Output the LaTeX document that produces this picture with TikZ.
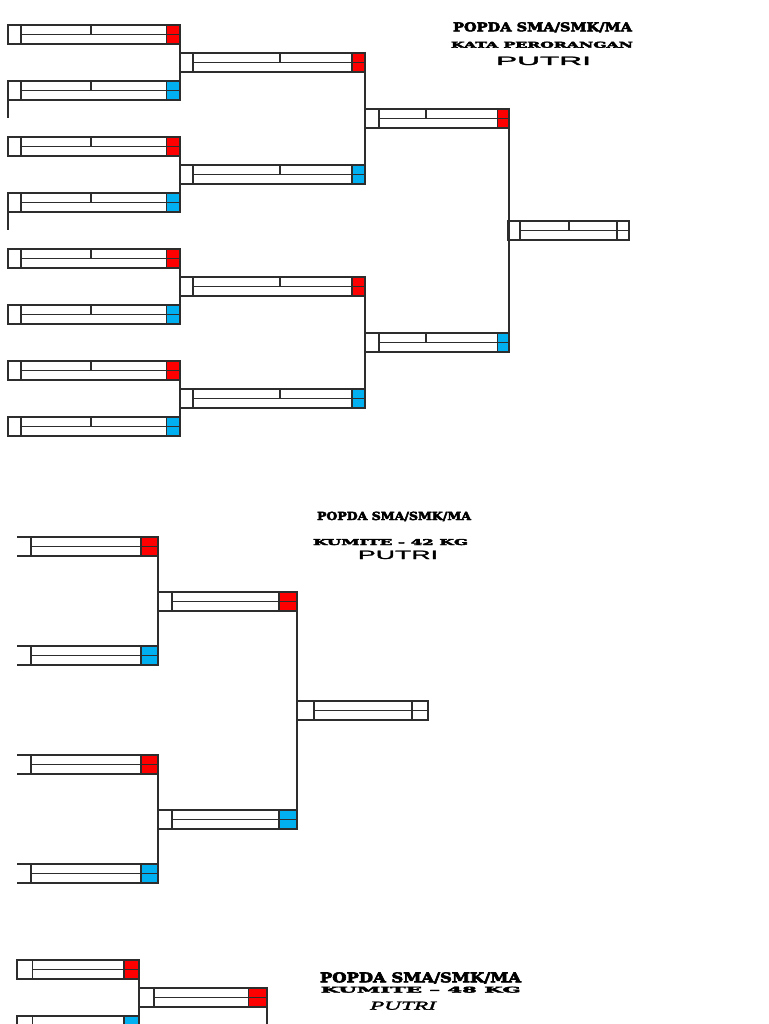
\documentclass[tikz,border=0pt]{standalone}
\usepackage{fontspec}
\usepackage{graphicx}
\newfontfamily\titlefont{DejaVu Serif}[UprightFont={* Bold}, FakeBold=4]
\newfontfamily\widefont{Liberation Sans}[FakeBold=1.5]
\newfontfamily\scriptfnt{Liberation Serif}[UprightFont={* Italic}, FakeBold=1.5]
\definecolor{slotred}{RGB}{255,0,0}
\definecolor{slotblue}{RGB}{0,176,240}
\definecolor{linegray}{RGB}{45,45,45}
\tikzset{
  slotline/.style={draw=linegray, line width=1.2pt},
  slot/.style={slotline, rectangle, anchor=north west, inner sep=0pt, outer sep=0pt, minimum height=19pt},
  slotopen/.style={draw=none},
  conn/.style={slotline},
  ttl/.style={anchor=north west, inner sep=0pt, outer sep=0pt}
}
% [style]{name}{x,y}{width}{left box width}{upper divider offset or empty}{right box width}{colour}
\newcommand\bslot[8][]{%
  \node[slot, minimum width=#4pt, #1] (#2) at (#3) {};
  \draw[slotline] ([xshift=#5pt]#2.north west) -- ([xshift=#5pt]#2.south west);
  \draw[slotline] ([xshift=#5pt]#2.west) -- (#2.east);
  \ifx&#6&\else\draw[slotline] ([xshift=#6pt]#2.north west) -- ([xshift=#6pt]#2.west);\fi
  \draw[slotline, fill=#8] ([xshift=-#7pt]#2.north east) rectangle (#2.east);
  \draw[slotline, fill=#8] ([xshift=-#7pt]#2.east) rectangle (#2.south east);
}
\begin{document}
\begin{tikzpicture}[x=1pt, y=-1pt]
\useasboundingbox (0,0) rectangle (768,1024);
\clip (0,0) rectangle (768,1024);

% ===== Bracket 1: KATA PERORANGAN =====
\bslot{a1}{8,25}{172}{13}{83}{13.5}{slotred}
\bslot{a2}{8,81}{172}{13}{83}{13.5}{slotblue}
\bslot{a3}{8,137}{172}{13}{83}{13.5}{slotred}
\bslot{a4}{8,193}{172}{13}{83}{13.5}{slotblue}
\bslot{a5}{8,249}{172}{13}{83}{13.5}{slotred}
\bslot{a6}{8,305}{172}{13}{83}{13.5}{slotblue}
\bslot{a7}{8,361}{172}{13}{83}{13.5}{slotred}
\bslot{a8}{8,417}{172}{13}{83}{13.5}{slotblue}

\bslot{b1}{180,53}{185}{13}{100}{13}{slotred}
\bslot{b2}{180,165}{185}{13}{100}{13}{slotblue}
\bslot{b3}{180,277}{185}{13}{100}{13}{slotred}
\bslot{b4}{180,389}{185}{13}{100}{13}{slotblue}

\bslot{c1}{365,109}{144}{14}{61}{11.5}{slotred}
\bslot{c2}{365,333}{144}{14}{61}{11.5}{slotblue}

\bslot{d1}{508,221}{121}{12}{61}{12}{white}

\draw[conn] (a1.north east) -- (a2.south east);
\draw[conn] (a3.north east) -- (a4.south east);
\draw[conn] (a5.north east) -- (a6.south east);
\draw[conn] (a7.north east) -- (a8.south east);
\draw[conn] (b1.north east) -- (b2.south east);
\draw[conn] (b3.north east) -- (b4.south east);
\draw[conn] (c1.north east) -- (c2.south east);

\coordinate (tailA) at (8,118);
\coordinate (tailB) at (8,230);
\draw[conn] (a2.south west) -- (tailA);
\draw[conn] (a4.south west) -- (tailB);

\node[ttl] (t1a) at (453,22.3) {\resizebox{179pt}{9pt}{\titlefont POPDA SMA/SMK/MA}};
\node[ttl] (t1b) at (451,41.7) {\resizebox{182pt}{6pt}{\titlefont KATA PERORANGAN}};
\node[ttl] (t1c) at (496,56.7) {\resizebox{95pt}{8.3pt}{\widefont PUTRI}};

% ===== Bracket 2: KUMITE 42 KG =====
\bslot[slotopen]{e1}{17,537}{141}{14}{}{17}{slotred}
\bslot[slotopen]{e2}{17,646}{141}{14}{}{17}{slotblue}
\bslot[slotopen]{e3}{17,755}{141}{14}{}{17}{slotred}
\bslot[slotopen]{e4}{17,864}{141}{14}{}{17}{slotblue}
\draw[slotline] (e1.north west) -- (e1.north east) (e1.south west) -- (e1.south east);
\draw[slotline] (e2.north west) -- (e2.north east) (e2.south west) -- (e2.south east);
\draw[slotline] (e3.north west) -- (e3.north east) (e3.south west) -- (e3.south east);
\draw[slotline] (e4.north west) -- (e4.north east) (e4.south west) -- (e4.south east);

\bslot{f1}{158,592}{139}{14}{}{18}{slotred}
\bslot{f2}{158,810}{139}{14}{}{18}{slotblue}

\bslot{g1}{297,701}{131}{17}{}{16}{white}

\draw[conn] (e1.north east) -- (e2.south east);
\draw[conn] (e3.north east) -- (e4.south east);
\draw[conn] (f1.north east) -- (f2.south east);

\node[ttl] (t2a) at (317,511.7) {\resizebox{154pt}{8.3pt}{\titlefont POPDA SMA/SMK/MA}};
\node[ttl] (t2b) at (313,539) {\resizebox{155pt}{6pt}{\titlefont KUMITE - 42 KG}};
\node[ttl] (t2c) at (358,550.7) {\resizebox{80pt}{8.3pt}{\widefont PUTRI}};

% ===== Bracket 3: KUMITE 48 KG =====
\bslot{h1}{17,960}{122}{15.5}{}{15}{slotred}
\bslot{h2}{17,1016}{122}{15.5}{}{15}{slotblue}
\bslot{k1}{139,988}{128}{15}{}{18.5}{slotred}
\coordinate (tailC) at (267,1030);
\draw[conn] (h1.north east) -- (h2.south east);
\draw[conn] (k1.south east) -- (tailC);

\node[ttl] (t3a) at (320,972.3) {\resizebox{201pt}{10pt}{\titlefont POPDA SMA/SMK/MA}};
\node[ttl] (t3b) at (320.7,986.7) {\resizebox{200pt}{5.8pt}{\titlefont KUMITE – 48 KG}};
\node[ttl] (t3c) at (370,1001.7) {\resizebox{66pt}{8pt}{\scriptfnt PUTRI}};
\end{tikzpicture}
\end{document}
